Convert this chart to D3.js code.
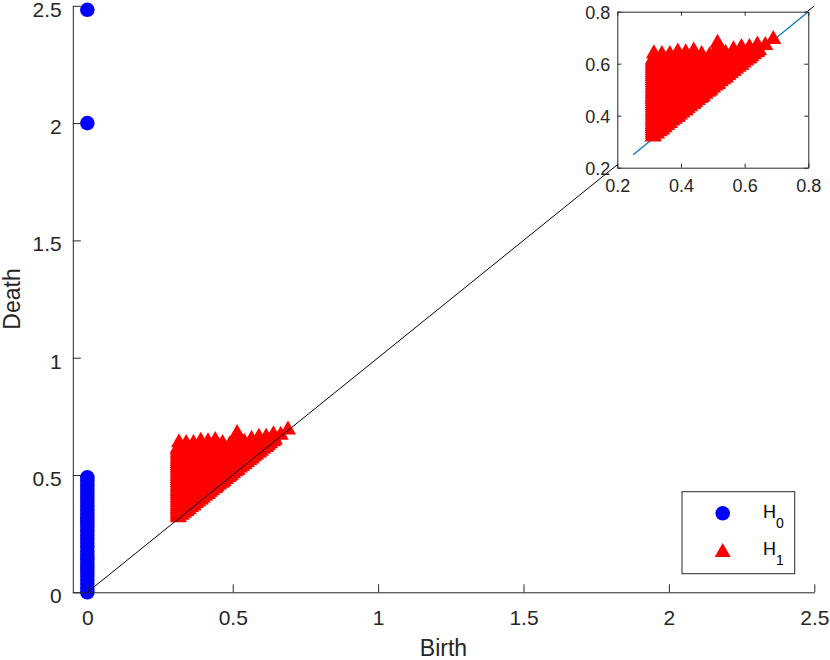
<!DOCTYPE html>
<html>
<head>
<meta charset="utf-8">
<script src="https://cdn.jsdelivr.net/npm/d3@7"></script>
<style>
  body { margin: 0; background: #fff; }
  svg { display: block; font-family: "Liberation Sans", Arial, Helvetica, sans-serif; }
</style>
</head>
<body>
<svg id="chart" width="830" height="660"></svg>
<script>
const h0Death = [0, 0.018, 0.035, 0.052, 0.07, 0.088, 0.105, 0.122, 0.14, 0.158, 0.175,
    0.193, 0.21, 0.228, 0.245, 0.263, 0.28, 0.298, 0.315, 0.333, 0.35, 0.368, 0.385,
    0.403, 0.42, 0.438, 0.455, 0.473, 0.49, 2.0, 2.483];

// H1 classes, grouped by birth value (one list of deaths per birth)
const h1Birth = [0.311, 0.315, 0.34, 0.365, 0.39, 0.415, 0.44, 0.465, 0.49, 0.515, 0.54,
    0.565, 0.59, 0.615, 0.64, 0.665, 0.69];
const h1Death = [
    [0.328, 0.336, 0.344, 0.352, 0.36, 0.368, 0.376, 0.384, 0.392, 0.4, 0.408, 0.416, 0.424,
     0.432, 0.44, 0.448, 0.456, 0.464, 0.472, 0.48, 0.488, 0.496, 0.504, 0.512, 0.52, 0.528,
     0.536, 0.544, 0.552, 0.56, 0.568, 0.576, 0.584, 0.592, 0.6, 0.608, 0.616, 0.624],
    [0.33, 0.355, 0.38, 0.405, 0.43, 0.455, 0.48, 0.505, 0.53, 0.555, 0.58, 0.605, 0.628, 0.648],
    [0.355, 0.38, 0.405, 0.43, 0.455, 0.48, 0.505, 0.53, 0.555, 0.58, 0.605, 0.625, 0.645],
    [0.38, 0.405, 0.43, 0.455, 0.48, 0.505, 0.53, 0.555, 0.58, 0.603, 0.625, 0.645],
    [0.405, 0.43, 0.455, 0.48, 0.505, 0.53, 0.555, 0.58, 0.605, 0.63, 0.655],
    [0.43, 0.455, 0.48, 0.505, 0.53, 0.555, 0.58, 0.605, 0.63, 0.652],
    [0.455, 0.48, 0.505, 0.53, 0.555, 0.58, 0.605, 0.63, 0.658],
    [0.48, 0.505, 0.53, 0.555, 0.58, 0.605, 0.625, 0.645],
    [0.505, 0.53, 0.555, 0.58, 0.605, 0.625, 0.64],
    [0.53, 0.555, 0.58, 0.605, 0.63, 0.655, 0.672, 0.688],
    [0.555, 0.58, 0.605, 0.63, 0.65],
    [0.58, 0.605, 0.63, 0.648, 0.663],
    [0.605, 0.63, 0.652, 0.672],
    [0.63, 0.652, 0.672],
    [0.655, 0.67, 0.682],
    [0.68],
    [0.703]
];

// short-lived H1 classes hugging the diagonal
const h1EdgeBirth = [0.325, 0.333, 0.341, 0.349, 0.357, 0.365, 0.373, 0.381, 0.389, 0.397,
    0.405, 0.413, 0.421, 0.429, 0.437, 0.445, 0.453, 0.461, 0.469, 0.477, 0.485, 0.493,
    0.501, 0.509, 0.517, 0.525, 0.533, 0.541, 0.549, 0.557, 0.565, 0.573, 0.581, 0.589,
    0.597, 0.605, 0.613, 0.621, 0.629, 0.637, 0.645];
const h1EdgeDeath = [0.339, 0.348, 0.356, 0.363, 0.372, 0.38, 0.389, 0.396, 0.404, 0.412,
    0.42, 0.428, 0.437, 0.444, 0.452, 0.46, 0.468, 0.476, 0.484, 0.492, 0.5, 0.508,
    0.516, 0.524, 0.532, 0.54, 0.548, 0.556, 0.564, 0.572, 0.58, 0.588, 0.596, 0.604,
    0.612, 0.62, 0.628, 0.636, 0.644, 0.652, 0.66];

const mainTicks = [0, 0.5, 1, 1.5, 2, 2.5];
const insetTicks = [0.2, 0.4, 0.6, 0.8];
const diagonal = [0, 2.5];
const insetDiagonal = [0.25, 0.8];
const legendLabels = ['0', '1'];

const h0 = h0Death.map(d => ({ birth: 0, death: d }));
const h1 = [];
h1Birth.forEach((b, i) => h1Death[i].forEach(d => h1.push({ birth: b, death: d })));
h1EdgeBirth.forEach((b, i) => h1.push({ birth: b, death: h1EdgeDeath[i] }));

const axisColor = '#262626';
const triW = 16, triH = 14, dotR = 7.3;
const triPath = `M0,${-triH / 2}L${triW / 2},${triH / 2}L${-triW / 2},${triH / 2}Z`;

const svg = d3.select('#chart');

const x = d3.scaleLinear().domain([-0.05, 2.5]).range([72.8, 814.3]);
const y = d3.scaleLinear().domain([0, 2.5]).range([592.3, 5.8]);

// points
svg.append('g').selectAll('circle')
    .data(h0).join('circle')
    .attr('cx', d => x(d.birth))
    .attr('cy', d => y(d.death))
    .attr('r', dotR)
    .attr('fill', '#0000ff');

svg.append('g').selectAll('path')
    .data(h1).join('path')
    .attr('transform', d => `translate(${x(d.birth)},${y(d.death)})`)
    .attr('d', triPath)
    .attr('fill', '#ff0000');

svg.append('line')
    .attr('x1', x(diagonal[0])).attr('y1', y(diagonal[0]))
    .attr('x2', x(diagonal[1])).attr('y2', y(diagonal[1]))
    .attr('stroke', '#000').attr('stroke-width', 1);

// main axes (left + bottom only)
const xAxisG = svg.append('g')
    .attr('transform', `translate(0,${y.range()[0]})`)
    .call(d3.axisBottom(x).tickValues(mainTicks).tickFormat(d => String(d)).tickSizeInner(-8).tickSizeOuter(0));
xAxisG.selectAll('text').attr('y', 33).attr('dy', null);

const yAxisG = svg.append('g')
    .attr('transform', `translate(${x.range()[0]},0)`)
    .call(d3.axisLeft(y).tickValues(mainTicks).tickFormat(d => String(d)).tickSizeInner(-8).tickSizeOuter(0));
yAxisG.selectAll('text').attr('x', -11).attr('y', 10.5).attr('dy', null);

[xAxisG, yAxisG].forEach(g => {
    g.attr('font-size', 21).attr('font-family', null);
    g.selectAll('path, line').attr('stroke', axisColor);
    g.selectAll('text').attr('fill', axisColor);
});

svg.append('text')
    .attr('x', 443.5).attr('y', 656)
    .attr('text-anchor', 'middle')
    .attr('font-size', 23).attr('fill', axisColor)
    .text('Birth');

svg.append('text')
    .attr('transform', 'translate(20,299) rotate(-90)')
    .attr('text-anchor', 'middle')
    .attr('font-size', 23).attr('fill', axisColor)
    .text('Death');

// inset zoom
const ix = d3.scaleLinear().domain([0.2, 0.8]).range([617.3, 808.3]);
const iy = d3.scaleLinear().domain([0.2, 0.8]).range([167.7, 11.7]);
const inset = svg.append('g');

inset.append('rect')
    .attr('x', ix.range()[0]).attr('y', iy.range()[1])
    .attr('width', ix.range()[1] - ix.range()[0])
    .attr('height', iy.range()[0] - iy.range()[1])
    .attr('fill', '#fff');

svg.append('clipPath').attr('id', 'insetClip')
    .append('rect')
    .attr('x', ix.range()[0]).attr('y', iy.range()[1])
    .attr('width', ix.range()[1] - ix.range()[0])
    .attr('height', iy.range()[0] - iy.range()[1]);

const insetPlot = inset.append('g').attr('clip-path', 'url(#insetClip)');

insetPlot.append('line')
    .attr('x1', ix(insetDiagonal[0])).attr('y1', iy(insetDiagonal[0]))
    .attr('x2', ix(insetDiagonal[1])).attr('y2', iy(insetDiagonal[1]))
    .attr('stroke', '#0072bd').attr('stroke-width', 1.2);

insetPlot.selectAll('path.tri')
    .data(h1).join('path')
    .attr('class', 'tri')
    .attr('transform', d => `translate(${ix(d.birth)},${iy(d.death)})`)
    .attr('d', triPath)
    .attr('fill', '#ff0000');

const ib = inset.append('g')
    .attr('transform', `translate(0,${iy.range()[0]})`)
    .call(d3.axisBottom(ix).tickValues(insetTicks).tickFormat(d3.format('.1f')).tickSizeInner(-4).tickSizeOuter(0));
ib.selectAll('text').attr('y', 24).attr('dy', null);

const il = inset.append('g')
    .attr('transform', `translate(${ix.range()[0]},0)`)
    .call(d3.axisLeft(iy).tickValues(insetTicks).tickFormat(d3.format('.1f')).tickSizeInner(-4).tickSizeOuter(0));
il.selectAll('text').attr('x', -7).attr('y', 7).attr('dy', null);

const it = inset.append('g')
    .attr('transform', `translate(0,${iy.range()[1]})`)
    .call(d3.axisTop(ix).tickValues(insetTicks).tickFormat('').tickSizeInner(-4).tickSizeOuter(0));

const ir = inset.append('g')
    .attr('transform', `translate(${ix.range()[1]},0)`)
    .call(d3.axisRight(iy).tickValues(insetTicks).tickFormat('').tickSizeInner(-4).tickSizeOuter(0));

[ib, il, it, ir].forEach(g => {
    g.attr('font-size', 18).attr('font-family', null);
    g.selectAll('path, line').attr('stroke', axisColor);
    g.selectAll('text').attr('fill', axisColor);
});

// legend
const legend = svg.append('g');
legend.append('rect')
    .attr('x', 682).attr('y', 491.7)
    .attr('width', 112.7).attr('height', 82)
    .attr('fill', '#fff').attr('stroke', axisColor).attr('stroke-width', 1);

legend.append('circle')
    .attr('cx', 722.7).attr('cy', 513.3).attr('r', dotR)
    .attr('fill', '#0000ff');
legend.append('path')
    .attr('transform', 'translate(722.7,550)')
    .attr('d', triPath)
    .attr('fill', '#ff0000');

legendLabels.forEach((lab, i) => {
    const t = legend.append('text')
        .attr('x', 763).attr('y', 518.3 + i * 36.7)
        .attr('font-size', 18).attr('fill', '#000');
    t.append('tspan').text('H');
    t.append('tspan').attr('dy', 10).attr('font-size', 14).text(lab);
});
</script>
</body>
</html>
